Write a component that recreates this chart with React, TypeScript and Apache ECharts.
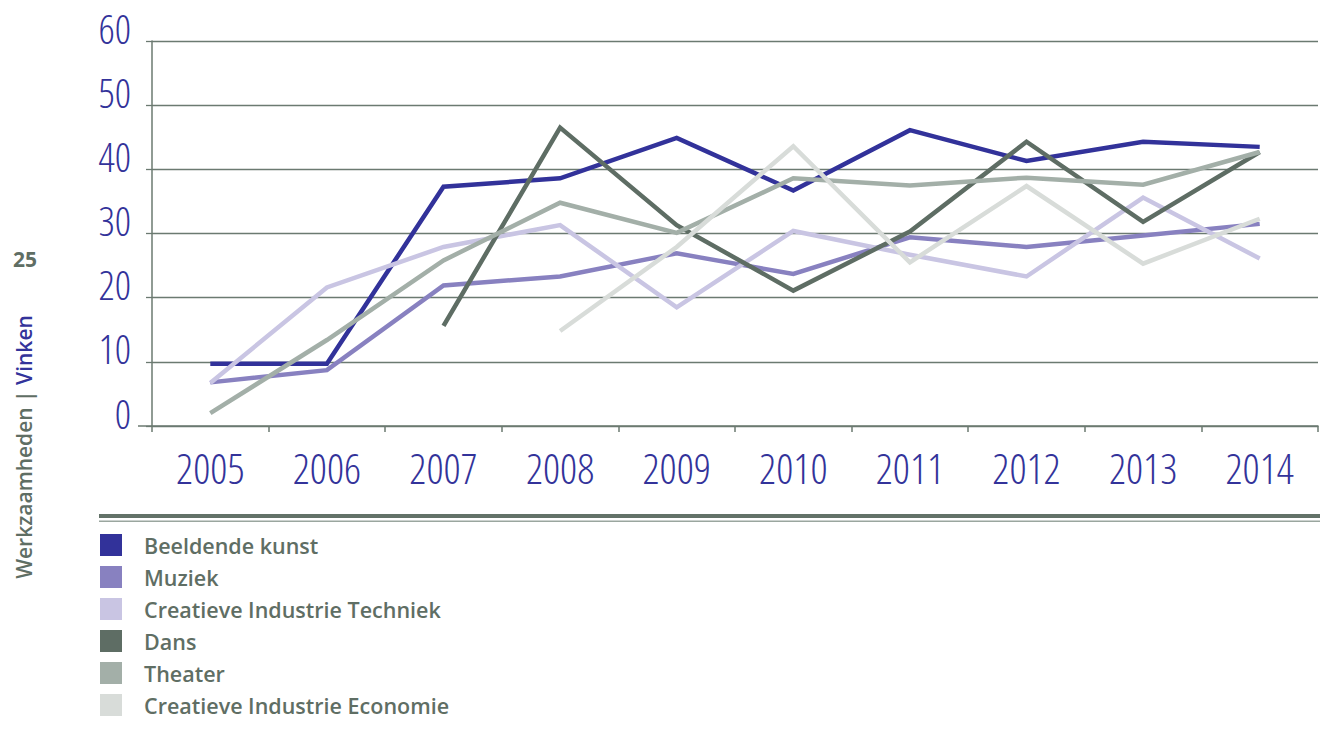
import React, { useEffect, useRef } from "react";
import * as echarts from "echarts";

const years = ["2005", "2006", "2007", "2008", "2009", "2010", "2011", "2012", "2013", "2014"];
const seriesNames = [
  "Beeldende kunst",
  "Muziek",
  "Creatieve Industrie Techniek",
  "Dans",
  "Theater",
  "Creatieve Industrie Economie",
];
const beeldendeKunst = [9.7, 9.7, 37.3, 38.6, 44.9, 36.7, 46.1, 41.3, 44.3, 43.5];
const muziek = [6.8, 8.7, 21.9, 23.3, 26.9, 23.7, 29.4, 27.9, 29.7, 31.5];
const techniek = [6.7, 21.6, 27.9, 31.3, 18.5, 30.4, 26.7, 23.3, 35.6, 26.1];
const dans = [null, null, 15.6, 46.5, 31.3, 21.1, 30.3, 44.3, 31.8, 42.7];
const theater = [2.0, 13.4, 25.8, 34.8, 30.1, 38.6, 37.5, 38.7, 37.6, 42.7];
const economie = [null, null, null, 14.8, 27.9, 43.6, 25.5, 37.4, 25.3, 32.3];
const seriesData = [beeldendeKunst, muziek, techniek, dans, theater, economie];
const colors = ["#32329a", "#8881c0", "#c9c5e3", "#5e6d64", "#a3afa8", "#d8dcd9"];
const yTicks = { min: 0, max: 60, interval: 10 };

const AXIS = "#6b7a71";
const TEXT_GRAY = "#5f6e64";
const BLUE = "#33339a";
const NUM_FONT = "'Open Sans'; font-stretch: 75%";
const SANS = "'Open Sans', sans-serif";

export default function App() {
  const ref = useRef<HTMLDivElement>(null);
  useEffect(() => {
    if (!ref.current) return;
    const chart = echarts.init(ref.current, null, { renderer: "svg" });
    chart.setOption({
      animation: false,
      backgroundColor: "#ffffff",
      grid: { left: 152, right: 2, top: 41, bottom: 305 },
      xAxis: {
        type: "category",
        data: years,
        boundaryGap: true,
        axisLine: { show: true, lineStyle: { color: AXIS, width: 1.5 } },
        axisTick: { show: true, length: 6, lineStyle: { color: AXIS, width: 1.5 } },
        axisLabel: {
          color: BLUE,
          fontFamily: NUM_FONT,
          fontWeight: 300,
          fontSize: 42,
          lineHeight: 30,
          margin: 26,
          interval: 0,
        },
        splitLine: { show: false },
      },
      yAxis: {
        type: "value",
        min: yTicks.min,
        max: yTicks.max,
        interval: yTicks.interval,
        axisLine: { show: true, lineStyle: { color: AXIS, width: 1.5 } },
        axisTick: { show: true, length: 6, lineStyle: { color: AXIS, width: 1.3 } },
        axisLabel: {
          color: BLUE,
          fontFamily: NUM_FONT,
          fontWeight: 300,
          fontSize: 40,
          lineHeight: 26,
          margin: 21,
          verticalAlign: "bottom",
        },
        splitLine: { show: true, lineStyle: { color: AXIS, width: 1.3 } },
      },
      legend: {
        orient: "vertical",
        left: 95,
        top: 529,
        itemWidth: 22,
        itemHeight: 22,
        itemGap: 10,
        icon: "rect",
        data: seriesNames,
        textStyle: {
          color: TEXT_GRAY,
          fontSize: 21.5,
          fontWeight: 600,
          fontFamily: SANS,
          padding: [4, 0, 0, 17],
        },
      },
      graphic: [
        {
          type: "rect",
          shape: { x: 99, y: 514, width: 1221, height: 4 },
          style: { fill: "#637268" },
          silent: true,
        },
        {
          type: "rect",
          shape: { x: 99, y: 520.5, width: 1221, height: 1.5 },
          style: { fill: "#9aa69f" },
          silent: true,
        },
        {
          type: "line",
          shape: { x1: 138, y1: 426, x2: 152, y2: 426 },
          style: { stroke: AXIS, lineWidth: 1.5 },
          silent: true,
        },
        {
          type: "text",
          x: 25,
          y: 259,
          style: {
            text: "25",
            fill: TEXT_GRAY,
            fontSize: 21,
            fontWeight: "bold",
            fontFamily: SANS,
            align: "center",
            verticalAlign: "middle",
          },
        },
        {
          type: "text",
          x: 24,
          y: 447,
          rotation: Math.PI / 2,
          style: {
            text: "{g|Werkzaamheden | }{b|Vinken}",
            fontSize: 21,
            fontWeight: 600,
            fontFamily: SANS,
            align: "center",
            verticalAlign: "middle",
            rich: {
              g: { fill: TEXT_GRAY, fontSize: 21, fontWeight: 600, fontFamily: SANS },
              b: { fill: BLUE, fontSize: 21, fontWeight: 600, fontFamily: SANS },
            },
          },
        },
      ],
      series: seriesNames.map((name, i) => ({
        name,
        type: "line",
        data: seriesData[i],
        color: colors[i],
        showSymbol: false,
        symbol: "none",
        connectNulls: false,
        lineStyle: { width: 4.5, color: colors[i], cap: "butt", join: "miter" },
        emphasis: { disabled: true },
      })),
    });
    return () => chart.dispose();
  }, []);
  return (
    <div
      ref={ref}
      style={{ position: "absolute", left: 0, top: 0, width: 1320, height: 731 }}
    />
  );
}
